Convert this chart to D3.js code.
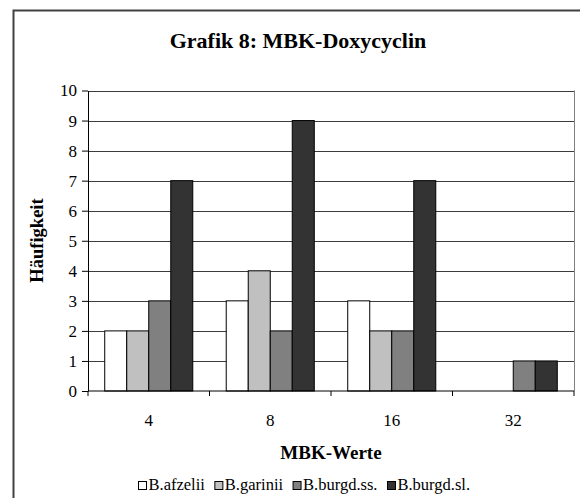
<!DOCTYPE html>
<html>
<head>
<meta charset="utf-8">
<script src="https://cdn.jsdelivr.net/npm/d3@7"></script>
<style>
  html, body { margin: 0; padding: 0; background: #fff; }
  svg { display: block; }
  svg text { font-family: "Liberation Serif", "Times New Roman", Times, "DejaVu Serif", serif; }
</style>
</head>
<body>
<svg id="chart" width="580" height="498"></svg>
<script>
// MBK values (categories on the x axis)
const categories = ["4", "8", "16", "32"];
// Borrelia species (series)
const series = ["B.afzelii", "B.garinii", "B.burgd.ss.", "B.burgd.sl."];
// Frequencies per category, one array per species
const afzelii  = [2, 3, 3, 0];
const garinii  = [2, 4, 2, 0];
const burgdSS  = [3, 2, 2, 1];
const burgdSL  = [7, 9, 7, 1];
const yTicks = [0, 1, 2, 3, 4, 5, 6, 7, 8, 9, 10];

const seriesValues = [afzelii, garinii, burgdSS, burgdSL];
const colors = ["#ffffff", "#c0c0c0", "#808080", "#333333"];
const FONT = "'Liberation Serif', 'Times New Roman', Times, 'DejaVu Serif', serif";

const svg = d3.select("#chart").attr("font-family", FONT);

// chart frame
svg.append("rect")
  .attr("x", 13.5).attr("y", 10.5)
  .attr("width", 620).attr("height", 620)
  .attr("fill", "none").attr("stroke", "#404040").attr("stroke-width", 2);

const plot = { left: 88, right: 574, top: 90.5, bottom: 391 };

const x0 = d3.scaleBand().domain(categories).range([plot.left, plot.right]).padding(0);
const x1 = d3.scaleBand().domain(series).range([0, x0.bandwidth()])
  .paddingInner(0).paddingOuter(0.76);
const y = d3.scaleLinear().domain([0, 10]).range([plot.bottom, plot.top]);
const color = d3.scaleOrdinal().domain(series).range(colors);

// gridlines
svg.append("g").selectAll("line").data(yTicks.filter(d => d > 0)).join("line")
  .attr("x1", plot.left).attr("x2", plot.right)
  .attr("y1", d => Math.round(y(d)) + 0.5).attr("y2", d => Math.round(y(d)) + 0.5)
  .attr("stroke", "#3c3c3c").attr("stroke-width", 1.2);

// plot area right border
svg.append("line")
  .attr("x1", plot.right + 0.5).attr("x2", plot.right + 0.5)
  .attr("y1", plot.top).attr("y2", plot.bottom)
  .attr("stroke", "#808080").attr("stroke-width", 1);

// bars
const rows = categories.map((c, i) => ({ cat: c, vals: series.map((s, j) => ({ s, v: seriesValues[j][i] })) }));
svg.append("g").selectAll("g").data(rows).join("g")
  .attr("transform", d => `translate(${x0(d.cat)},0)`)
  .selectAll("rect").data(d => d.vals.filter(e => e.v > 0)).join("rect")
  .attr("x", d => x1(d.s))
  .attr("y", d => y(d.v))
  .attr("width", x1.bandwidth())
  .attr("height", d => y(0) - y(d.v))
  .attr("fill", d => color(d.s))
  .attr("stroke", "#000").attr("stroke-width", 1);

// y axis
const yAxis = d3.axisLeft(y).tickValues(yTicks).tickFormat(d3.format("d")).tickSizeInner(6).tickSizeOuter(0).tickPadding(5);
const gy = svg.append("g").attr("transform", `translate(${plot.left},0)`).call(yAxis)
  .attr("font-family", FONT).attr("font-size", 17);
gy.select(".domain").attr("stroke", "#000");
gy.selectAll(".tick line").attr("stroke", "#000");
gy.selectAll("text").attr("fill", "#000");

// x axis: ticks between categories
const xBoundaries = categories.map(c => x0(c)).concat([plot.right]);
const gx = svg.append("g");
gx.append("line").attr("x1", plot.left).attr("x2", plot.right)
  .attr("y1", plot.bottom).attr("y2", plot.bottom).attr("stroke", "#000");
gx.selectAll("line.tk").data(xBoundaries).join("line").attr("class", "tk")
  .attr("x1", d => d).attr("x2", d => d)
  .attr("y1", plot.bottom).attr("y2", plot.bottom + 5).attr("stroke", "#000");
gx.selectAll("text").data(categories).join("text")
  .attr("x", d => x0(d) + x0.bandwidth() / 2)
  .attr("y", 426)
  .attr("text-anchor", "middle").attr("font-size", 17).text(d => d);

// title
svg.append("text").attr("x", 298).attr("y", 47.5).attr("text-anchor", "middle")
  .attr("font-size", 22).attr("font-weight", "bold").text("Grafik 8: MBK-Doxycyclin");

// axis titles
svg.append("text").attr("transform", "translate(43,240.5) rotate(-90)")
  .attr("text-anchor", "middle").attr("font-size", 18.5).attr("font-weight", "bold").text("Häufigkeit");
svg.append("text").attr("x", 331).attr("y", 458.5).attr("text-anchor", "middle")
  .attr("font-size", 19).attr("font-weight", "bold").text("MBK-Werte");

// legend: entries laid out left to right from their measured text widths
const legendStart = 138.5, swatch = 8, swatchGap = 2, entryGap = 10;
const lg = svg.append("g").selectAll("g").data(series).join("g");
lg.append("rect").attr("x", 0).attr("y", 481.5).attr("width", swatch).attr("height", swatch)
  .attr("fill", d => color(d)).attr("stroke", "#000").attr("stroke-width", 1);
lg.append("text").attr("x", swatch + swatchGap).attr("y", 490).attr("font-size", 16.5).text(d => d);
let lx = legendStart;
lg.each(function () {
  const g = d3.select(this);
  g.attr("transform", `translate(${lx},0)`);
  lx += swatch + swatchGap + g.select("text").node().getComputedTextLength() + entryGap;
});
</script>
</body>
</html>
